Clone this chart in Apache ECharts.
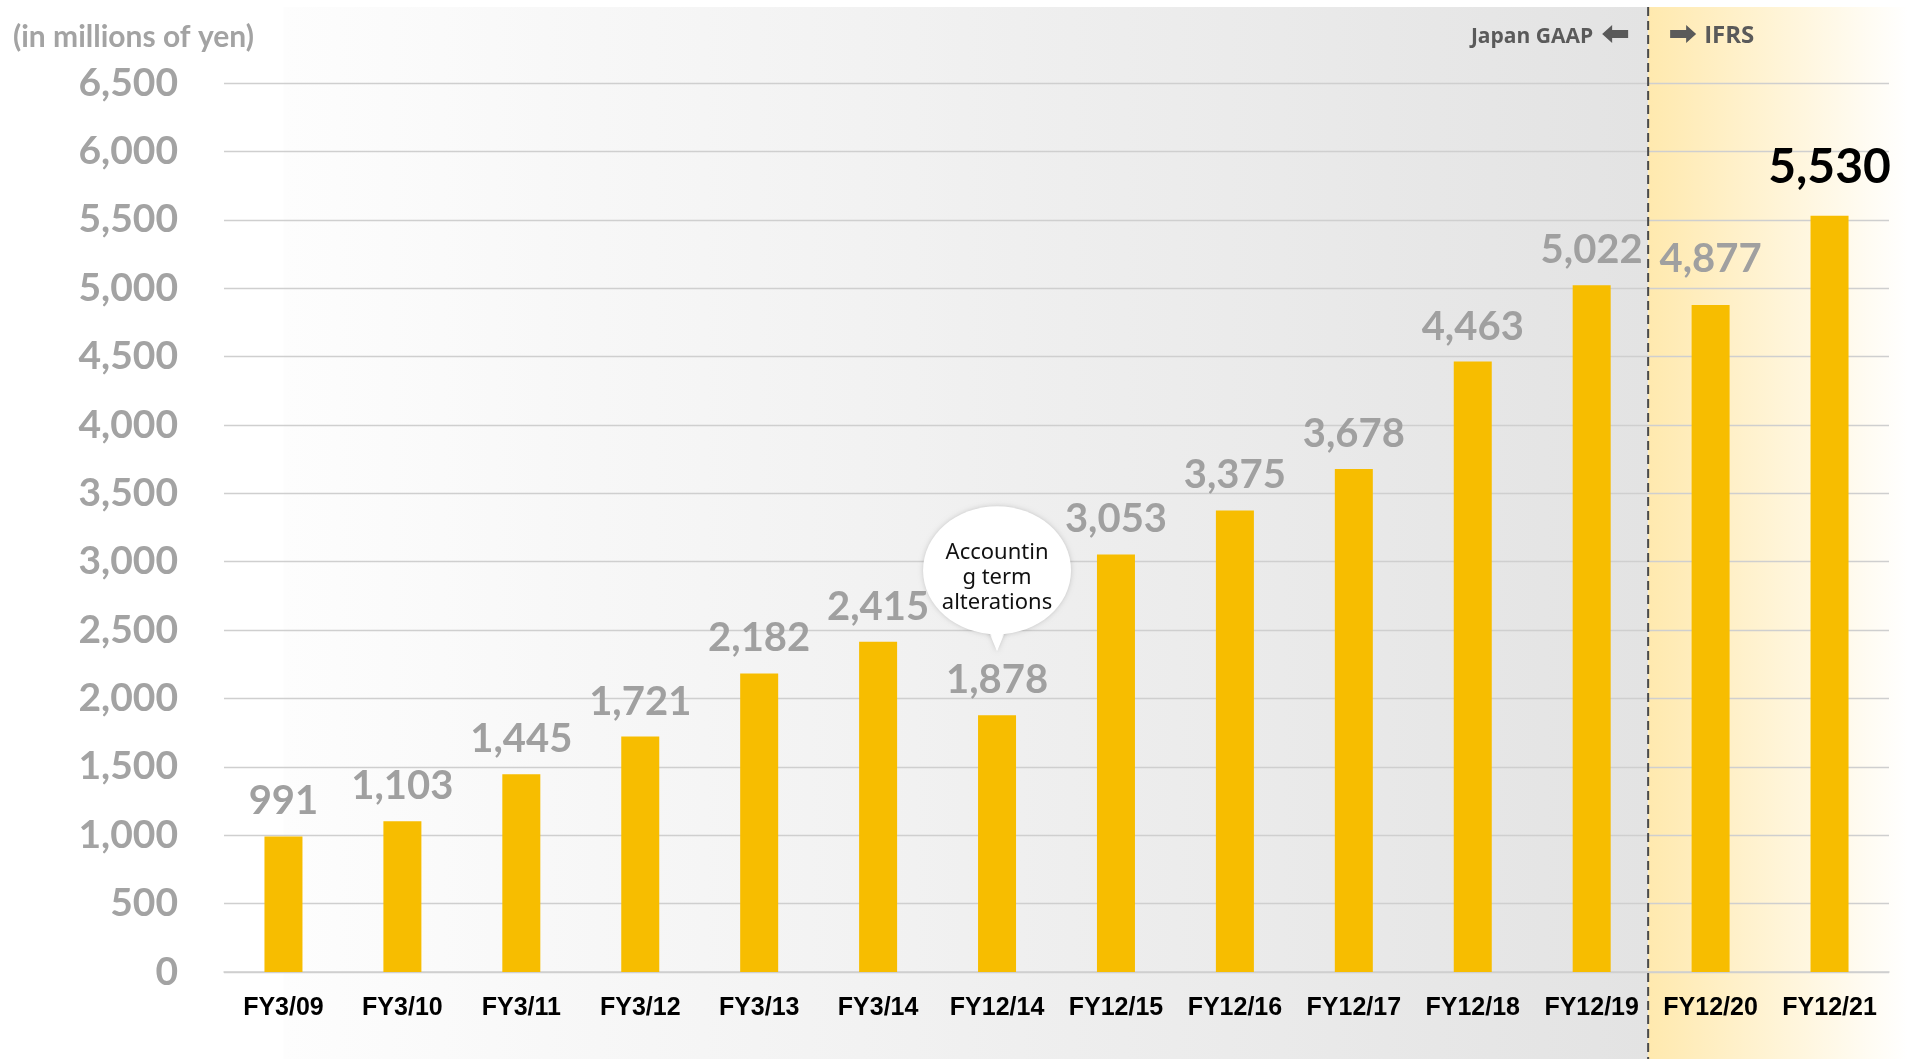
<!DOCTYPE html>
<html><head><meta charset="utf-8">
<script src="https://cdn.jsdelivr.net/npm/echarts@6/dist/echarts.min.js"></script>
<style>html,body{margin:0;padding:0;background:#fff;overflow:hidden}#c{width:1908px;height:1059px}</style>
</head><body><div id="c"></div>
<script>
// ---- data ----
const categories = ['FY3/09','FY3/10','FY3/11','FY3/12','FY3/13','FY3/14','FY12/14','FY12/15','FY12/16','FY12/17','FY12/18','FY12/19','FY12/20','FY12/21'];
const values = [991,1103,1445,1721,2182,2415,1878,3053,3375,3678,4463,5022,4877,5530];
const yMin = 0, yMax = 6500, yStep = 500;
const unitLabel = '(in millions of yen)';
const gaapLabel = 'Japan GAAP';
const ifrsLabel = 'IFRS';
const noteText = 'Accountin\ng term\nalterations';
const noteIndex = 6;      // FY12/14
const ifrsStartIndex = 12; // FY12/20
const highlightIndex = 13; // FY12/21

const chart = echarts.init(document.getElementById('c'), null, {renderer:'canvas'});
const numFmt = v => v.toLocaleString('en-US');

const seriesData = values.map((v,i) => {
  const d = {value: v};
  if (i === highlightIndex) {
    d.label = {color:'#000', fontSize:48, distance:24};
  } else if (i === ifrsStartIndex) {
    d.label = {distance:26};
  }
  return d;
});

chart.setOption({
  animation:false,
  grid:{left:224, right:19, top:83, bottom:87},
  xAxis:{
    type:'category', data:categories,
    axisLine:{show:true, lineStyle:{color:'#d0d0d0', width:1.5}},
    axisTick:{show:false},
    axisLabel:{color:'#000', fontFamily:'Liberation Sans', fontWeight:'bold', fontSize:25, margin:24, interval:0}
  },
  yAxis:{
    type:'value', min:yMin, max:yMax, interval:yStep,
    axisLine:{show:false}, axisTick:{show:false},
    splitLine:{lineStyle:{color:'#cfcfcf', width:1.3}},
    axisLabel:{color:'#a3a3a3', fontFamily:'Lato', fontWeight:'bold', fontSize:39, margin:46, formatter:numFmt}
  },
  series:[{
    type:'bar', data:seriesData, barWidth:38, z:3,
    itemStyle:{color:'#f7bd00'},
    label:{show:true, position:'top', distance:15, color:'#a0a0a0', fontFamily:'Lato', fontWeight:'bold', fontSize:40,
      formatter:p => numFmt(p.value)}
  }]
});

const W = 1908, H = 1059;
const px = i => chart.convertToPixel({xAxisIndex:0}, categories[i]);
const py = v => chart.convertToPixel({yAxisIndex:0}, v);
const xB = (px(ifrsStartIndex-1) + px(ifrsStartIndex)) / 2 - 3;
const panelTop = 7;
const grayStart = px(0);

const nx = px(noteIndex);
const barTop = py(values[noteIndex]);
const tipY = barTop - 64;
const cy = barTop - 145;

chart.setOption({
  graphic:[
    {type:'rect', z:-10, silent:true, shape:{x:grayStart, y:panelTop, width:xB-grayStart, height:H-panelTop},
      style:{fill:new echarts.graphic.LinearGradient(0,0,1,0,[{offset:0,color:'#fdfdfd'},{offset:1,color:'#e3e3e3'}])}},
    {type:'rect', z:-10, silent:true, shape:{x:xB, y:panelTop, width:W-xB, height:H-panelTop},
      style:{fill:new echarts.graphic.LinearGradient(0,0,1,0,[{offset:0,color:'#ffe9ae'},{offset:1,color:'#ffffff'}])}},
    {type:'line', z:50, silent:true, shape:{x1:xB, y1:panelTop, x2:xB, y2:H},
      style:{stroke:'#4a4a4a', lineWidth:2, lineDash:[9,5]}},
    {type:'text', z:50, x:13, y:37, style:{text:unitLabel, fill:'#a3a3a3', font:'bold 30px Lato', textVerticalAlign:'middle'}},
    {type:'text', z:50, x:xB-55, y:37, style:{text:gaapLabel, fill:'#5a5a5a', font:'bold 21px "Open Sans"', textAlign:'right', textVerticalAlign:'middle'}},
    // left arrow
    {type:'polygon', z:50, shape:{points:[[xB-46,34],[xB-36,25],[xB-36,30],[xB-20,30],[xB-20,38],[xB-36,38],[xB-36,43]]}, style:{fill:'#5a5a5a'}},
    // right arrow
    {type:'polygon', z:50, shape:{points:[[xB+22,30],[xB+38,30],[xB+38,25],[xB+48,34],[xB+38,43],[xB+38,38],[xB+22,38]]}, style:{fill:'#5a5a5a'}},
    {type:'text', z:50, x:xB+56, y:36, style:{text:ifrsLabel, fill:'#5a5a5a', font:'bold 24px "Open Sans"', textVerticalAlign:'middle'}},
    // callout bubble
    {type:'group', z:40, children:[
      {type:'polygon', shape:{points:[[nx-13,cy+50],[nx+13,cy+50],[nx,tipY]]},
        style:{fill:'#fff', shadowBlur:5, shadowColor:'rgba(0,0,0,0.18)'}},
      {type:'ellipse', shape:{cx:nx, cy:cy, rx:74, ry:64},
        style:{fill:'#fff', shadowBlur:5, shadowColor:'rgba(0,0,0,0.18)'}},
      {type:'polygon', shape:{points:[[nx-12,cy+48],[nx+12,cy+48],[nx,tipY-1]]}, style:{fill:'#fff'}},
      {type:'text', x:nx, y:cy+8, style:{text:noteText, fill:'#111', font:'22px "Noto Sans"', lineHeight:25, textAlign:'center', textVerticalAlign:'middle'}}
    ]}
  ]
});
</script>
</body></html>
